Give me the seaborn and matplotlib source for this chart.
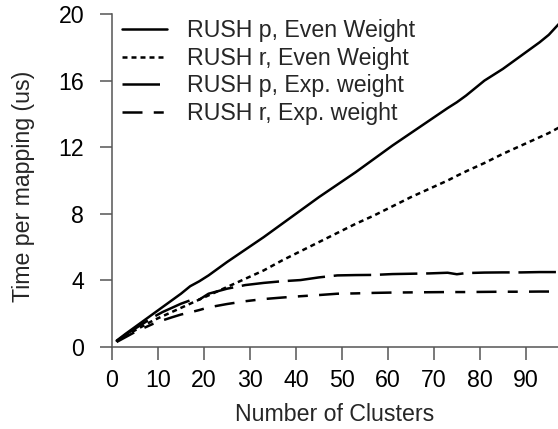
import pandas as pd
import matplotlib
matplotlib.use("Agg")
import matplotlib.pyplot as plt
import seaborn as sns

# --- 1. Datos ---
clusters = [1, 3, 5, 7, 9, 11, 13, 15, 17, 19, 21, 25, 29, 33, 37, 41, 45, 49,
            53, 57, 61, 65, 69, 73, 75, 77, 81, 85, 89, 93, 95, 97, 100]

rush_p_even = [0.38, 0.8, 1.2, 1.6, 2.0, 2.4, 2.8, 3.2, 3.65, 3.95, 4.3, 5.1, 5.85,
               6.6, 7.4, 8.2, 9.0, 9.75, 10.5, 11.3, 12.1, 12.85, 13.6, 14.35,
               14.7, 15.1, 16.0, 16.7, 17.5, 18.3, 18.75, 19.35, 20.2]
rush_r_even = [0.35, 0.7, 1.0, 1.3, 1.6, 1.85, 2.1, 2.35, 2.6, 2.85, 3.1, 3.6, 4.1,
               4.6, 5.2, 5.75, 6.3, 6.85, 7.4, 7.9, 8.45, 9.0, 9.5, 10.0, 10.28,
               10.55, 11.05, 11.6, 12.1, 12.6, 12.85, 13.15, 13.55]
rush_p_exp = [0.35, 0.75, 1.1, 1.45, 1.8, 2.1, 2.35, 2.6, 2.8, 2.85, 3.2, 3.5, 3.72,
              3.85, 3.95, 4.02, 4.18, 4.3, 4.32, 4.33, 4.38, 4.4, 4.42, 4.46, 4.37,
              4.44, 4.47, 4.48, 4.48, 4.5, 4.5, 4.5, 4.5]
rush_r_exp = [0.3, 0.6, 0.9, 1.15, 1.4, 1.6, 1.78, 1.95, 2.08, 2.22, 2.38, 2.58, 2.75,
              2.88, 2.97, 3.05, 3.12, 3.2, 3.22, 3.25, 3.27, 3.28, 3.29, 3.3, 3.3,
              3.3, 3.31, 3.32, 3.32, 3.33, 3.33, 3.33, 3.33]

series = ["RUSH p, Even Weight", "RUSH r, Even Weight",
          "RUSH p, Exp. weight", "RUSH r, Exp. weight"]
valores = [rush_p_even, rush_r_even, rush_p_exp, rush_r_exp]

# tabla larga para seaborn
df = pd.concat([pd.DataFrame({"Clusters": clusters, "Tiempo": v, "Serie": s})
                for s, v in zip(series, valores)], ignore_index=True)

# --- 2. Estilo ---
sns.set_style("ticks")
plt.rcParams["font.family"] = ["Liberation Sans", "DejaVu Sans"]
gris = "#555555"
tam = 16.7

estilos = {series[0]: "",
           series[1]: (2.0, 1.6),
           series[2]: (15, 3.5),
           series[3]: (8, 4.5, 4, 4.5)}

fig = plt.figure(figsize=(5.58, 4.29), dpi=100)
ax = fig.add_axes([112 / 558, 82 / 429, 446 / 558, 333 / 429])

sns.lineplot(data=df, x="Clusters", y="Tiempo", hue="Serie", style="Serie",
             hue_order=series, style_order=series,
             palette=["black"] * 4, dashes=estilos, linewidth=1.8, ax=ax)

# --- 3. Ejes ---
ax.set_xlim(0, 97)
ax.set_ylim(0, 20)
ax.set_xticks(range(0, 91, 10))
ax.set_yticks(range(0, 21, 4))
for lado in ["top", "right"]:
    ax.spines[lado].set_visible(False)
for lado in ["left", "bottom"]:
    ax.spines[lado].set_color(gris)
    ax.spines[lado].set_linewidth(1.1)
ax.tick_params(axis="both", colors=gris, labelcolor="black", labelsize=tam,
               length=9, width=1.1, direction="out")
ax.tick_params(axis="x", pad=6.5)
ax.tick_params(axis="y", pad=11)

ax.set_xlabel("Number of Clusters", fontsize=tam)
ax.set_ylabel("Time per mapping (us)", fontsize=tam)
ax.xaxis.set_label_coords(0.5, -0.167)
ax.yaxis.set_label_coords(-77 / 446, 0.482)

# --- 4. Leyenda ---
leg = ax.get_legend()
handles = leg.legend_handles
labels = [t.get_text() for t in leg.get_texts()]
ax.legend(handles, labels, loc="upper left", frameon=False, fontsize=tam,
          bbox_to_anchor=(9.7 / 446, 1 - 5 / 333), borderpad=0, borderaxespad=0,
          handlelength=1.95, handletextpad=0.85, labelspacing=0.2)

fig.savefig("out.png", dpi=100)
